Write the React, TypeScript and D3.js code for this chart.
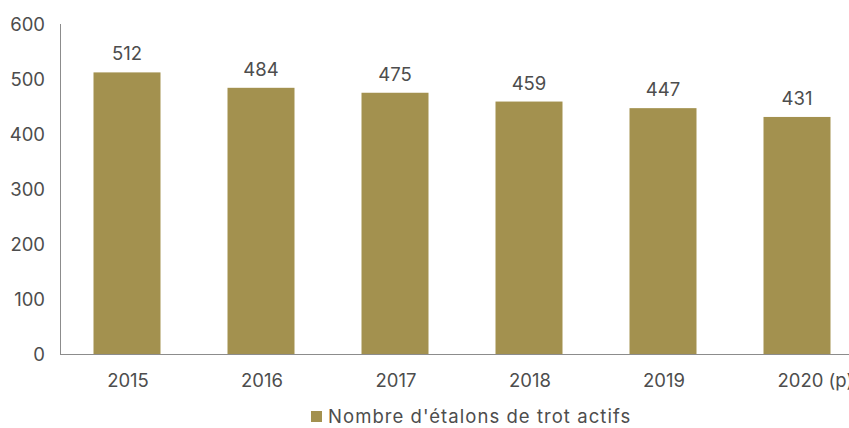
import React from "react";
import * as d3 from "d3";

const categories = ["2015", "2016", "2017", "2018", "2019", "2020 (p)"];
const values = [512, 484, 475, 459, 447, 431];
const yTicks = [0, 100, 200, 300, 400, 500, 600];
const seriesName = "Nombre d'étalons de trot actifs";

const W = 849;
const H = 428;
const FONT = "Inter, 'Open Sans', sans-serif";
const BAR = "#A3914F";
const TEXT = "#4d4d4d";

export default function App() {
  const x = d3.scaleBand<string>().domain(categories).range([60, 864]).paddingInner(0.5).paddingOuter(0.25);
  const y = d3.scaleLinear().domain([0, 600]).range([354, 24]);
  const last = categories.length - 1;
  return (
    <svg width={W} height={H} style={{ position: "absolute", left: 0, top: 0, background: "#fff" }} fontFamily={FONT}>
      {yTicks.map((t) => (
        <text key={t} x={45} y={y(t)} dy="0.36em" textAnchor="end" fontSize={18.5} fill={TEXT}>
          {t}
        </text>
      ))}
      {categories.map((c, i) => {
        const cx = (x(c) as number) + x.bandwidth() / 2;
        return (
          <g key={c}>
            <rect x={x(c)} y={y(values[i])} width={x.bandwidth()} height={y(0) - y(values[i])} fill={BAR} />
            <text x={cx} y={y(values[i]) - 12} textAnchor="middle" fontSize={18.5} fill={TEXT}>
              {values[i]}
            </text>
            <text
              x={i === last ? (x(c) as number) + 14 : cx + 1}
              y={387}
              textAnchor={i === last ? "start" : "middle"}
              fontSize={18.5}
              fill={TEXT}
            >
              {c}
            </text>
          </g>
        );
      })}
      <line x1={60.5} x2={60.5} y1={24} y2={354} stroke="#8c8c8c" strokeWidth={1} />
      <line x1={60} x2={W} y1={354.5} y2={354.5} stroke="#8c8c8c" strokeWidth={1} />
      <rect x={311} y={411} width={11} height={11} fill={BAR} />
      <text x={328} y={423} fontSize={18.5} fill={TEXT} letterSpacing={1.05}>
        {seriesName}
      </text>
    </svg>
  );
}
